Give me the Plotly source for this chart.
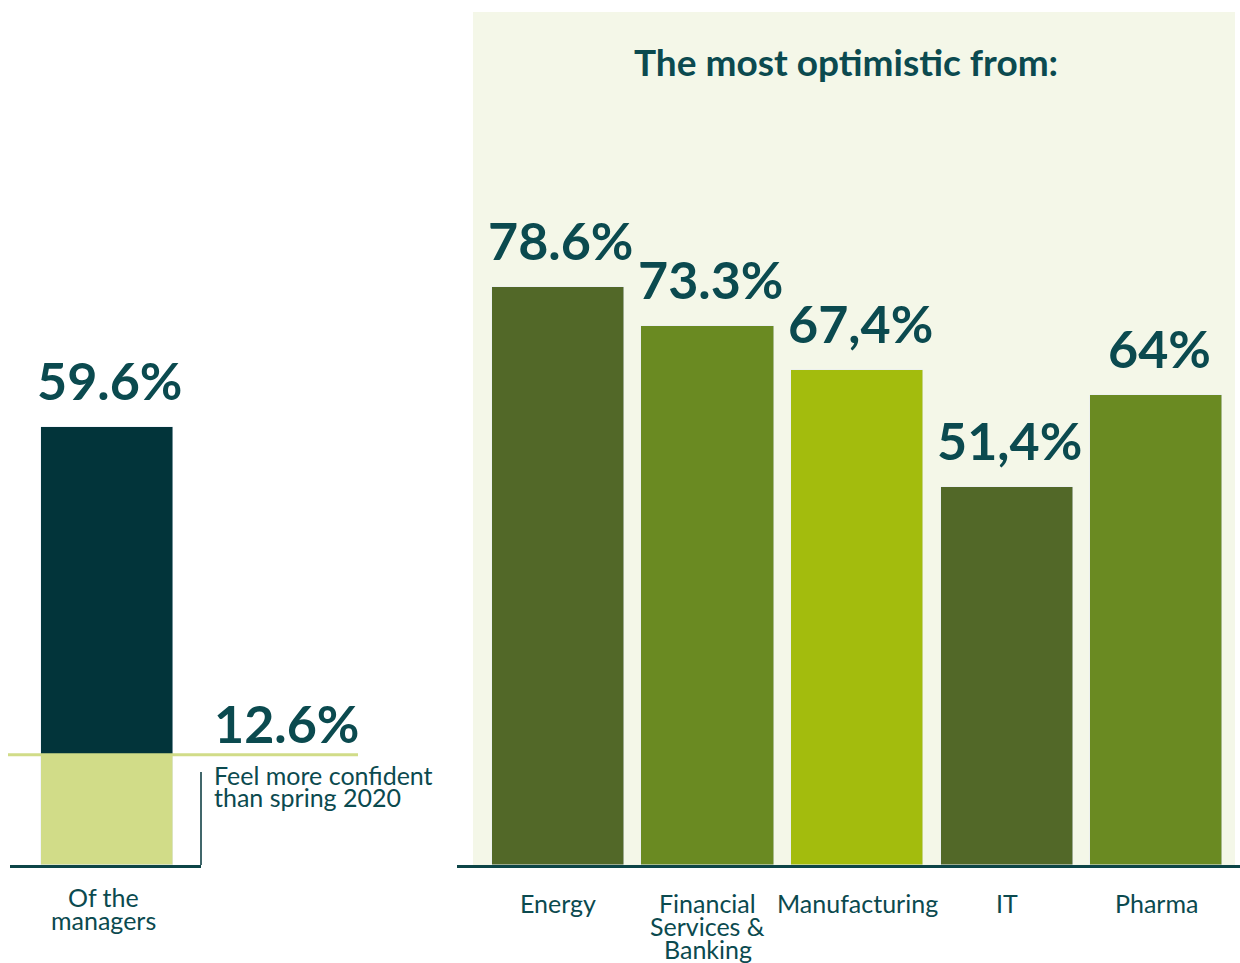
import plotly.graph_objects as go

# ---------------- data ----------------
sector_categories = ["Energy", "Financial\nServices &\nBanking", "Manufacturing", "IT", "Pharma"]
sector_values = [78.6, 73.3, 67.4, 51.4, 64.0]
sector_labels = ["78.6%", "73.3%", "67,4%", "51,4%", "64%"]

manager_categories = ["Of the\nmanagers"]
managers_total = [59.6]          # total bar height
confident_segment = [15.0]       # lower (light) segment height as drawn
managers_label = "59.6%"
confident_label = "12.6%"
note_lines = ["Feel more confident", "than spring 2020"]
panel_title = "The most optimistic from:"

# ---------------- style ----------------
W, H = 1240, 963
FONT = "Lato"
TEXT = "#0b4a4f"
DARK = "#02343a"
LIGHT = "#d1dc88"
PANEL_BG = "#f4f7e8"
sector_colors = ["#526828", "#6a8a22", "#a3bc0d", "#526828", "#6a8a22"]
VALUE_SIZE = 52
LABEL_SIZE = 25

base_px = 865          # baseline pixel
px_per_unit = 7.35     # pixels per percentage point
y_dom0 = (H - base_px) / H
y_max = base_px / px_per_unit


def px_x(p):
    return p / W


def px_y(p):
    return 1 - p / H


fig = go.Figure()

# left stacked bar
upper_segment = [t - c for t, c in zip(managers_total, confident_segment)]
fig.add_trace(go.Bar(x=manager_categories, y=confident_segment, marker_color=LIGHT,
                     width=132 / 191, xaxis="x", yaxis="y", showlegend=False,
                     hoverinfo="skip"))
fig.add_trace(go.Bar(x=manager_categories, y=upper_segment, marker_color=DARK,
                     width=132 / 191, xaxis="x", yaxis="y", showlegend=False,
                     hoverinfo="skip"))

# right bars
fig.add_trace(go.Bar(x=sector_categories, y=sector_values, marker_color=sector_colors,
                     width=0.883, xaxis="x2", yaxis="y", showlegend=False,
                     hoverinfo="skip"))

annotations = []

value_font = dict(family=FONT, size=VALUE_SIZE, color=TEXT, weight="bold")
label_font = dict(family=FONT, size=LABEL_SIZE, color=TEXT)

# value labels
for cat, v, lab in zip(sector_categories, sector_values, sector_labels):
    annotations.append(dict(x=cat, y=v, xref="x2", yref="y", text=lab, showarrow=False,
                            xanchor="center", yanchor="bottom", yshift=14,
                            xshift=3, font=value_font))
annotations.append(dict(x=manager_categories[0], y=managers_total[0], xref="x", yref="y",
                        text=managers_label, showarrow=False, xanchor="center",
                        yanchor="bottom", yshift=14, xshift=2, font=value_font))
annotations.append(dict(x=px_x(212), y=confident_segment[0], xref="paper", yref="y",
                        text=confident_label, showarrow=False, xanchor="left",
                        yanchor="bottom", yshift=-1, font=value_font))

# note lines
for i, line in enumerate(note_lines):
    annotations.append(dict(x=px_x(212), y=confident_segment[0], xref="paper", yref="y",
                            text=line, showarrow=False, xanchor="left", yanchor="top",
                            yshift=-3 - 22 * i, font=label_font))

# category labels (tight line spacing)
for cat in sector_categories:
    for i, line in enumerate(cat.split("\n")):
        annotations.append(dict(x=cat, y=0, xref="x2", yref="y", text=line,
                                showarrow=False, xanchor="center", yanchor="top",
                                yshift=-21 - 23 * i, font=label_font))
for cat in manager_categories:
    for i, line in enumerate(cat.split("\n")):
        annotations.append(dict(x=cat, y=0, xref="x", yref="y", text=line,
                                showarrow=False, xanchor="center", yanchor="top",
                                yshift=-15 - 23 * i, xshift=-4, font=label_font))

# title
annotations.append(dict(x=px_x(846), y=px_y(37), xref="paper", yref="paper",
                        text=panel_title, showarrow=False, xanchor="center",
                        yanchor="top",
                        font=dict(family=FONT, size=37, color=TEXT, weight="bold")))

shapes = [
    dict(type="rect", xref="paper", yref="paper", x0=px_x(473), x1=px_x(1235),
         y0=px_y(base_px), y1=px_y(12), fillcolor=PANEL_BG, line=dict(width=0),
         layer="below"),
    dict(type="line", xref="paper", yref="y", x0=px_x(8), x1=px_x(358),
         y0=confident_segment[0], y1=confident_segment[0],
         line=dict(color=LIGHT, width=3)),
    dict(type="line", xref="paper", yref="paper", x0=px_x(201), x1=px_x(201),
         y0=px_y(772), y1=px_y(base_px), line=dict(color=DARK, width=1.5)),
]

axis_common = dict(showgrid=False, zeroline=False, ticks="", showticklabels=False,
                   showline=True, linecolor="#0d4547", linewidth=3, fixedrange=True)

fig.update_layout(
    width=W, height=H,
    margin=dict(l=0, r=0, t=0, b=0),
    paper_bgcolor="white",
    plot_bgcolor="rgba(0,0,0,0)",
    barmode="stack",
    bargap=0,
    xaxis=dict(domain=[px_x(10), px_x(201)], range=[-97 / 191, 94 / 191],
               anchor="y", **axis_common),
    xaxis2=dict(domain=[px_x(457), 1], range=[-0.675, 4.56], anchor="y",
                **axis_common),
    yaxis=dict(domain=[y_dom0, 1], range=[0, y_max], visible=False, fixedrange=True),
    annotations=annotations,
    shapes=shapes,
    font=dict(family=FONT, color=TEXT),
)

fig.write_html("out.html",
               config={"displayModeBar": False},
               post_script="document.body.style.margin='0';document.body.style.overflow='hidden';")
